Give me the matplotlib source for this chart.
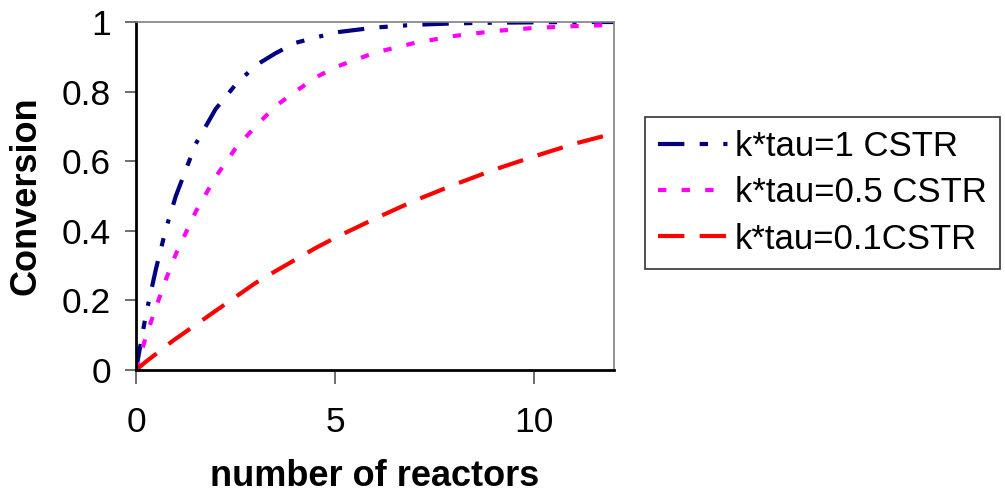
import matplotlib
matplotlib.use('Agg')
import matplotlib.pyplot as plt

plt.rcParams['font.family'] = ['Liberation Sans', 'DejaVu Sans']
plt.rcParams['lines.scale_dashes'] = False

# number of reactors
n = [0, 0.25, 0.5, 0.75, 1, 1.5, 2, 2.5, 3, 3.5, 4, 4.5, 5, 6, 7, 8, 9, 10, 11, 12]

# conversion
x_kt1 = [0, 0.16, 0.29, 0.405, 0.50, 0.65, 0.75, 0.82, 0.875, 0.91, 0.94, 0.955, 0.97,
         0.984, 0.992, 0.996, 0.998, 0.999, 1.0, 1.0]
x_kt05 = [0, 0.096, 0.18, 0.26, 0.333, 0.455, 0.555, 0.637, 0.70, 0.758, 0.80, 0.84, 0.87,
          0.912, 0.94, 0.96, 0.974, 0.983, 0.988, 0.992]
x_kt01 = [0, 0.024, 0.046, 0.069, 0.09, 0.13, 0.17, 0.21, 0.25, 0.284, 0.317, 0.35, 0.38,
          0.435, 0.487, 0.533, 0.576, 0.614, 0.65, 0.68]

labels = ['k*tau=1 CSTR', 'k*tau=0.5 CSTR', 'k*tau=0.1CSTR']

fig = plt.figure(figsize=(10.05, 4.98), dpi=100)
ax = fig.add_axes([136/1005, 128/498, 478/1005, 348/498])

ax.plot(n, x_kt1, color='#000080', lw=3, dashes=(19, 11, 6, 11, 3, 11), label=labels[0])
ax.plot(n, x_kt05, color='#FF00FF', lw=3, dashes=(6, 11), label=labels[1])
ax.plot(n, x_kt01, color='#FF0000', lw=3, dashes=(19, 11), label=labels[2])

ax.set_xlim(0, 12)
ax.set_ylim(0, 1)
ax.set_xticks([0, 5, 10])
ax.set_yticks([0, 0.2, 0.4, 0.6, 0.8, 1])
ax.set_yticklabels(['0', '0.2', '0.4', '0.6', '0.8', '1'])
ax.tick_params(axis='both', labelsize=25.5, direction='out', color='#555555', width=1.2)
ax.tick_params(axis='x', length=10, pad=16)
ax.tick_params(axis='y', length=8, pad=10)

ax.spines['left'].set_linewidth(2)
ax.spines['bottom'].set_linewidth(2)
ax.spines['top'].set_color('#808080')
ax.spines['right'].set_color('#808080')
ax.spines['top'].set_linewidth(1.2)
ax.spines['right'].set_linewidth(1.2)

ax.set_xlabel('number of reactors', fontsize=26, fontweight='bold', labelpad=14)
ax.set_ylabel('Conversion', fontsize=26, fontweight='bold', labelpad=13)

leg = fig.legend(loc='upper left', bbox_to_anchor=(645/1005, 1 - 117/498),
                 fontsize=25, frameon=True, fancybox=False, edgecolor='black',
                 handlelength=2.0, handletextpad=0.2, borderpad=0.38,
                 labelspacing=0.38, borderaxespad=0)
leg.get_frame().set_linewidth(1.2)

fig.savefig('out.png', dpi=100)
